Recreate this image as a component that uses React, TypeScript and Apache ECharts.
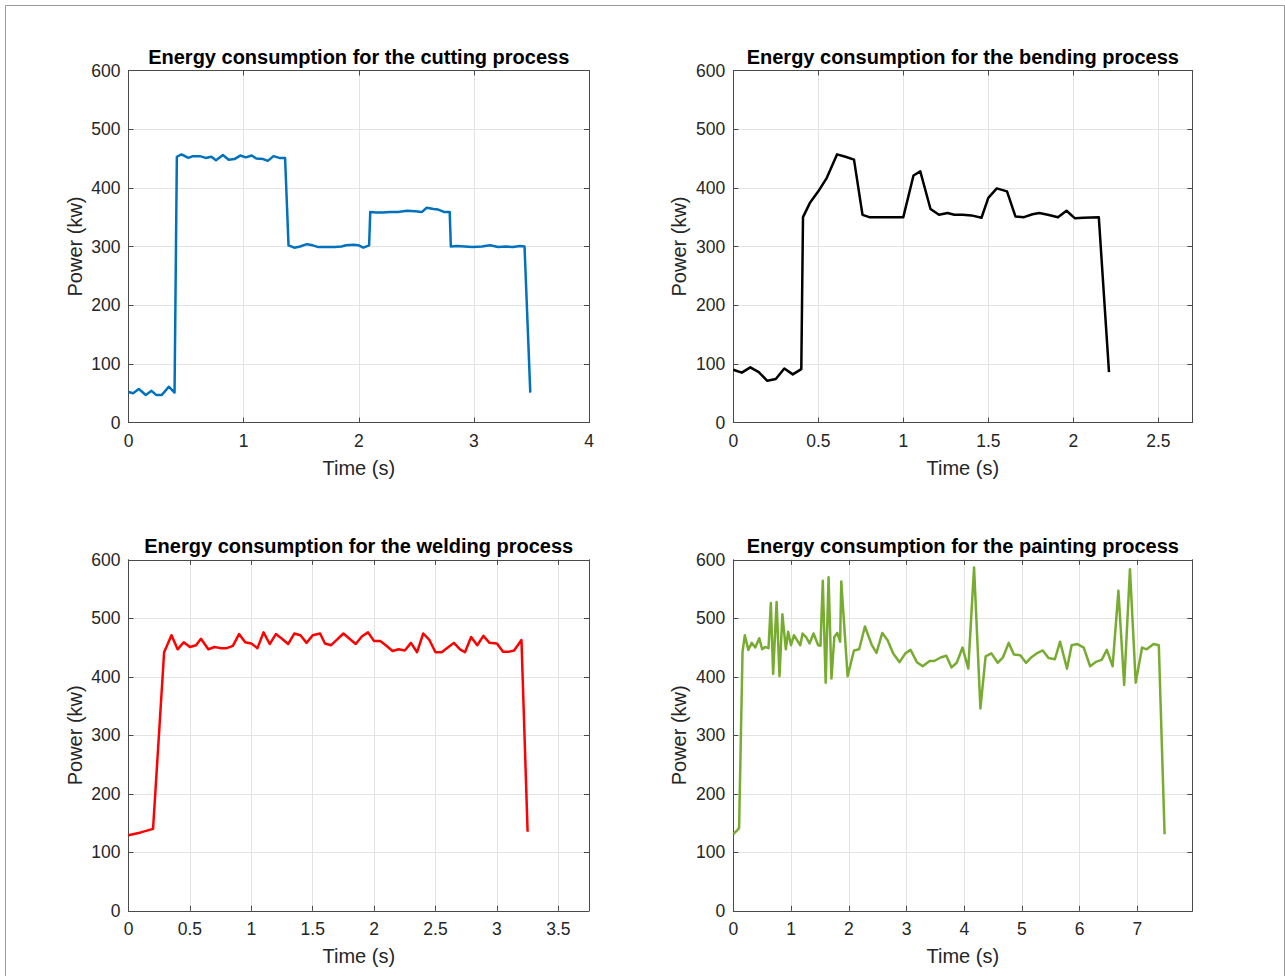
import { useEffect, useRef } from 'react';
import * as echarts from 'echarts';

const FONT = "Arial, 'Liberation Sans', Helvetica, sans-serif";

const titles = [
  'Energy consumption for the cutting process',
  'Energy consumption for the bending process',
  'Energy consumption for the welding process',
  'Energy consumption for the painting process',
];
const xAxisName = 'Time (s)';
const yAxisName = 'Power (kw)';
const xMax = [4, 2.7, 3.75, 7.95];
const xInterval = [1, 0.5, 0.5, 1];
const yMax = 600;
const yInterval = 100;
const lineColors = ['#0072BD', '#000000', '#FF0000', '#77AC30'];

// [time (s), power (kw)]
const cuttingData = [
  [0, 52], [0.04, 50], [0.09, 57], [0.15, 47], [0.2, 54], [0.24, 47], [0.29, 47], [0.35, 61], [0.4, 51],
  [0.42, 453], [0.46, 457], [0.52, 451], [0.56, 454], [0.62, 454], [0.67, 451], [0.72, 453], [0.76, 447],
  [0.82, 456], [0.87, 448], [0.92, 449], [0.97, 455], [1.02, 452], [1.07, 455], [1.11, 450], [1.17, 449],
  [1.21, 446], [1.26, 454], [1.31, 451], [1.36, 451],
  [1.39, 302], [1.44, 298], [1.49, 300], [1.55, 304], [1.6, 302], [1.65, 299], [1.72, 299], [1.79, 299],
  [1.85, 300], [1.89, 302], [1.95, 303], [2.0, 302], [2.04, 298], [2.09, 302],
  [2.1, 359], [2.15, 358], [2.21, 358], [2.27, 359], [2.34, 359], [2.42, 361], [2.49, 360], [2.55, 359],
  [2.59, 366], [2.65, 364], [2.69, 363], [2.74, 359], [2.79, 359],
  [2.8, 300], [2.85, 301], [2.92, 300], [2.99, 299], [3.07, 300], [3.14, 302], [3.21, 299], [3.28, 300],
  [3.34, 299], [3.4, 301], [3.44, 300], [3.49, 51],
];

const bendingData = [
  [0, 90], [0.05, 85], [0.1, 94], [0.15, 86], [0.2, 71], [0.25, 74], [0.3, 92], [0.35, 82], [0.4, 91],
  [0.41, 350], [0.45, 374], [0.5, 394], [0.55, 417], [0.61, 457], [0.66, 453], [0.71, 448], [0.76, 354],
  [0.8, 350], [0.9, 350], [1.0, 350], [1.06, 421], [1.1, 428], [1.16, 364], [1.21, 354], [1.26, 357],
  [1.3, 354], [1.35, 354], [1.4, 353], [1.46, 349], [1.5, 383], [1.55, 399], [1.61, 394], [1.66, 351],
  [1.71, 350], [1.76, 355], [1.8, 357], [1.85, 354], [1.91, 350], [1.96, 361], [2.01, 348], [2.06, 349],
  [2.15, 350], [2.21, 86],
];

const weldingData = [
  [0, 129], [0.1, 134], [0.2, 140], [0.29, 442], [0.35, 471], [0.4, 447], [0.45, 459], [0.5, 451],
  [0.55, 454], [0.59, 465], [0.65, 447], [0.7, 451], [0.75, 449], [0.8, 449], [0.85, 453], [0.9, 473],
  [0.95, 459], [1.0, 457], [1.05, 449], [1.1, 476], [1.15, 456], [1.2, 473], [1.25, 465], [1.3, 456],
  [1.35, 474], [1.4, 471], [1.45, 458], [1.5, 471], [1.56, 474], [1.6, 457], [1.65, 454], [1.7, 464],
  [1.75, 474], [1.8, 465], [1.85, 456], [1.9, 469], [1.95, 476], [2.0, 461], [2.05, 461], [2.1, 453],
  [2.15, 444], [2.2, 447], [2.25, 445], [2.3, 458], [2.35, 442], [2.4, 474], [2.45, 463], [2.5, 442],
  [2.55, 442], [2.6, 450], [2.65, 458], [2.7, 447], [2.74, 442], [2.79, 468], [2.84, 454], [2.89, 470],
  [2.94, 458], [3.0, 457], [3.05, 443], [3.1, 443], [3.14, 445], [3.2, 463], [3.25, 135],
];

const paintingData = [
  [0, 131], [0.1, 141], [0.16, 443], [0.2, 471], [0.26, 446], [0.32, 458], [0.38, 450], [0.45, 466],
  [0.5, 447], [0.55, 451], [0.61, 449], [0.65, 526], [0.69, 405], [0.75, 528], [0.8, 401], [0.85, 507],
  [0.91, 447], [0.95, 477], [1.0, 454], [1.05, 471], [1.16, 454], [1.2, 474], [1.26, 468], [1.32, 457],
  [1.39, 474], [1.47, 454], [1.51, 453], [1.55, 564], [1.6, 390], [1.65, 570], [1.7, 397], [1.75, 468],
  [1.8, 475], [1.85, 460], [1.87, 563], [1.98, 401], [2.09, 445], [2.18, 447], [2.28, 486], [2.4, 454],
  [2.48, 441], [2.58, 475], [2.67, 463], [2.77, 440], [2.88, 425], [2.98, 440], [3.07, 446], [3.18, 425],
  [3.28, 418], [3.4, 427], [3.48, 427], [3.59, 433], [3.69, 436], [3.78, 416], [3.87, 424], [3.97, 450],
  [4.07, 414], [4.17, 587], [4.28, 346], [4.37, 435], [4.47, 440], [4.58, 424], [4.67, 433], [4.77, 458],
  [4.86, 438], [4.97, 437], [5.07, 424], [5.17, 434], [5.27, 441], [5.36, 445], [5.46, 432], [5.57, 430],
  [5.66, 460], [5.78, 414], [5.86, 454], [5.96, 456], [6.07, 450], [6.18, 418], [6.29, 426], [6.38, 429],
  [6.47, 446], [6.57, 418], [6.67, 547], [6.77, 386], [6.87, 584], [6.97, 390], [7.08, 450], [7.16, 447],
  [7.28, 456], [7.37, 454], [7.47, 131],
];

const seriesData = [cuttingData, bendingData, weldingData, paintingData];

const grids = [
  { left: 128.5, top: 70.5, width: 460.5, height: 352 },
  { left: 733.3, top: 70.5, width: 459, height: 352 },
  { left: 128.5, top: 559.8, width: 460.5, height: 351 },
  { left: 733.3, top: 559.8, width: 459, height: 351 },
];

const AXIS_COLOR = '#4a4a4a';
const GRID_COLOR = '#e3e3e3';
const TEXT_COLOR = '#262626';

function isMultiple(v: number, step: number) {
  const r = v / step;
  return Math.abs(r - Math.round(r)) < 1e-6;
}

function buildOption() {
  const xAxes: any[] = [];
  const yAxes: any[] = [];
  const series: any[] = [];
  const title: any[] = [];

  grids.forEach((g, i) => {
    xAxes.push({
      type: 'value',
      gridIndex: i,
      min: 0,
      max: xMax[i],
      interval: xInterval[i],
      position: 'bottom',
      name: xAxisName,
      nameLocation: 'middle',
      nameGap: 35,
      nameTextStyle: { fontFamily: FONT, fontSize: 20, color: TEXT_COLOR },
      axisLine: { show: true, onZero: false, lineStyle: { color: AXIS_COLOR, width: 1 } },
      axisTick: { show: true, inside: true, length: 5, lineStyle: { color: AXIS_COLOR } },
      axisLabel: {
        margin: 9,
        fontFamily: FONT,
        fontSize: 17.5,
        color: TEXT_COLOR,
        formatter: (v: number) => (isMultiple(v, xInterval[i]) ? String(Math.round(v * 1000) / 1000) : ''),
      },
      splitLine: { show: true, lineStyle: { color: GRID_COLOR, width: 1 } },
    });
    yAxes.push({
      type: 'value',
      gridIndex: i,
      min: 0,
      max: yMax,
      interval: yInterval,
      position: 'left',
      name: yAxisName,
      nameLocation: 'middle',
      nameGap: 44,
      nameTextStyle: { fontFamily: FONT, fontSize: 20, color: TEXT_COLOR },
      axisLine: { show: true, onZero: false, lineStyle: { color: AXIS_COLOR, width: 1 } },
      axisTick: { show: true, inside: true, length: 5, lineStyle: { color: AXIS_COLOR } },
      axisLabel: { margin: 8, fontFamily: FONT, fontSize: 17.5, color: TEXT_COLOR },
      splitLine: { show: true, lineStyle: { color: GRID_COLOR, width: 1 } },
    });
    series.push({
      type: 'line',
      xAxisIndex: i,
      yAxisIndex: i,
      data: seriesData[i],
      showSymbol: false,
      symbol: 'none',
      lineStyle: { color: lineColors[i], width: 2.5, join: 'round' },
      itemStyle: { color: lineColors[i] },
      z: 5,
    });
    title.push({
      text: titles[i],
      left: g.left + g.width / 2,
      top: g.top - 23.5,
      textAlign: 'center',
      padding: 0,
      textStyle: { fontFamily: FONT, fontSize: 20, fontWeight: 'bold', color: '#000' },
    });
  });

  grids.forEach((_g, i) => {
    xAxes.push({
      type: 'value',
      gridIndex: i,
      position: 'top',
      min: 0,
      max: xMax[i],
      interval: xInterval[i],
      axisLine: { show: true, onZero: false, lineStyle: { color: AXIS_COLOR, width: 1 } },
      axisTick: { show: true, inside: true, length: 5, lineStyle: { color: AXIS_COLOR } },
      axisLabel: { show: false },
      splitLine: { show: false },
    });
    yAxes.push({
      type: 'value',
      gridIndex: i,
      position: 'right',
      min: 0,
      max: yMax,
      interval: yInterval,
      axisLine: { show: true, onZero: false, lineStyle: { color: AXIS_COLOR, width: 1 } },
      axisTick: { show: true, inside: true, length: 5, lineStyle: { color: AXIS_COLOR } },
      axisLabel: { show: false },
      splitLine: { show: false },
    });
  });

  return {
    animation: false,
    backgroundColor: '#ffffff',
    title,
    grid: grids.map((g) => ({ ...g, containLabel: false })),
    xAxis: xAxes,
    yAxis: yAxes,
    series,
    graphic: [
      {
        type: 'rect',
        shape: { x: 5.5, y: 5.5, width: 1279, height: 1000 },
        style: { fill: 'none', stroke: '#9a9a9a', lineWidth: 1 },
        silent: true,
        z: -1,
      },
    ],
  };
}

export default function App() {
  const ref = useRef<HTMLDivElement>(null);
  useEffect(() => {
    if (!ref.current) return;
    const chart = echarts.init(ref.current, null, { renderer: 'svg' });
    chart.setOption(buildOption() as any);
    return () => chart.dispose();
  }, []);
  return (
    <div
      ref={ref}
      style={{ position: 'absolute', left: 0, top: 0, width: 1285, height: 976, background: '#fff' }}
    />
  );
}
